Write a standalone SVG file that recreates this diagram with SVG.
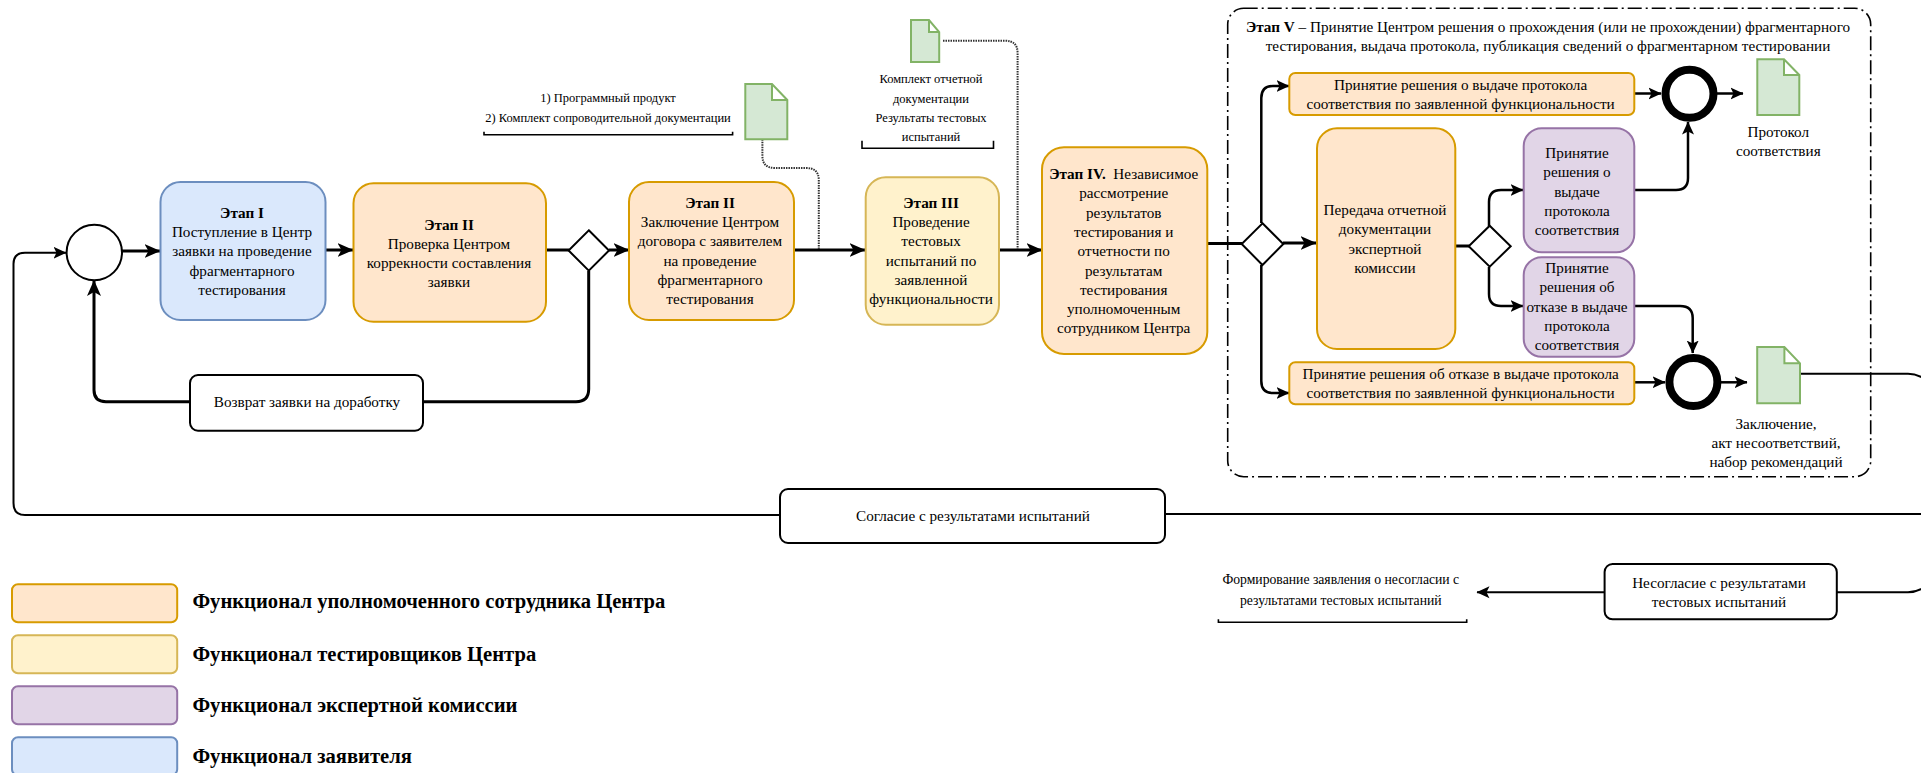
<svg xmlns="http://www.w3.org/2000/svg" width="1921" height="773" viewBox="0 0 1921 773">
<style>
text{font-family:"Liberation Serif","Times New Roman",serif;fill:#000}
.t{font-size:15.2px;text-anchor:middle}
.s{font-size:12.5px;text-anchor:middle}
.f{font-size:13.7px;text-anchor:middle}
.l{font-size:20.6px;font-weight:bold}
.b{font-weight:bold}
.or{fill:#ffe6cc;stroke:#d79b00;stroke-width:2}
.ye{fill:#fff2cc;stroke:#d6b656;stroke-width:2}
.pu{fill:#e1d5e7;stroke:#9673a6;stroke-width:2}
.bl{fill:#dae8fc;stroke:#6c8ebf;stroke-width:2}
.doc{fill:#d5e8d4;stroke:#82b366;stroke-width:2}
.wh{fill:#fff;stroke:#000;stroke-width:2}
.c{fill:none;stroke:#000;stroke-width:2.5}
.c3{fill:none;stroke:#000;stroke-width:3}
.c2{fill:none;stroke:#000;stroke-width:2}
.d{fill:none;stroke:#333;stroke-width:2;stroke-dasharray:1.5 1}
.br{fill:none;stroke:#000;stroke-width:1.6}
</style>
<defs>
<marker id="a" markerUnits="userSpaceOnUse" markerWidth="17" markerHeight="16" refX="15.5" refY="8" orient="auto"><path d="M0,1 L16,8 L0,15 L4,8 Z" fill="#000"/></marker>
<marker id="m" markerUnits="userSpaceOnUse" markerWidth="14" markerHeight="14" refX="12.5" refY="7" orient="auto"><path d="M0,1 L13,7 L0,13 L3,7 Z" fill="#000"/></marker>
</defs>
<rect id="stage5-frame" x="1227.7" y="8.3" width="643" height="468.4" rx="16" fill="none" stroke="#000" stroke-width="1.6" stroke-dasharray="14 4 2 4"/>
<g id="connectors">
<path class="c3" d="M122,251H160" marker-end="url(#a)"/>
<path class="c3" d="M326,250H353" marker-end="url(#a)"/>
<path class="c3" d="M546,250H569"/>
<path class="c3" d="M609,250H629" marker-end="url(#a)"/>
<path class="c3" d="M794,250H865" marker-end="url(#a)"/>
<path class="c3" d="M999,250H1042" marker-end="url(#a)"/>
<path class="c3" d="M1207,243.5H1242"/>
<path class="c3" d="M1283,243H1316" marker-end="url(#a)"/>
<path class="c3" d="M1455,246H1469"/>
<path class="c3" d="M588.7,271V389Q588.7,401.7 576,401.7H423"/>
<path class="c3" d="M190,401.7H106Q94,401.7 94,390V280.5" marker-end="url(#a)"/>
<path class="c2" d="M780,515H25Q13.5,515 13.5,503V264Q13.5,252.7 25,252.7H66" marker-end="url(#m)"/>
<path class="d" d="M762.4,139.3V156Q762.4,168 775,168H806Q818.8,168 818.8,180V249"/>
<path class="d" d="M943,40.7H1005Q1017.6,40.7 1017.6,53V249"/>
<path class="c" d="M1261.3,223V98Q1261.3,86 1273,86H1289" marker-end="url(#m)"/>
<path class="c" d="M1261.3,265V381Q1261.3,393 1273,393H1289" marker-end="url(#m)"/>
<path class="c" d="M1489,226V202Q1489,190 1501,190H1523" marker-end="url(#m)"/>
<path class="c" d="M1489,267V294Q1489,306 1501,306H1523" marker-end="url(#m)"/>
<path class="c" d="M1634,93.5H1661" marker-end="url(#m)"/>
<path class="c" d="M1717,93.5H1743" marker-end="url(#m)"/>
<path class="c" d="M1634,190H1676Q1688,190 1688,178V122" marker-end="url(#m)"/>
<path class="c" d="M1634,306H1680Q1692.7,306 1692.7,318V353" marker-end="url(#m)"/>
<path class="c" d="M1634,382.3H1665" marker-end="url(#m)"/>
<path class="c" d="M1721,382.3H1747" marker-end="url(#m)"/>
<path class="c2" d="M1800,373.7H1908Q1921,373.7 1933,386V500Q1933,514 1921,514H1165"/>
<path class="c2" d="M1837,592.3H1908Q1921,592.3 1933,580V526Q1933,514 1921,514"/>
<path class="c2" d="M1604.6,592.3H1477" marker-end="url(#m)"/>
</g>
<g id="start"><circle class="wh" cx="94.3" cy="252.5" r="27.7"/></g>
<g id="stage1"><rect class="bl" x="160.5" y="182" width="165" height="138" rx="20"/>
<text class="t" x="242"><tspan x="242" y="218" class="b">Этап I</tspan><tspan x="242" y="237.2">Поступление в Центр</tspan><tspan x="242" y="256.4">заявки на проведение</tspan><tspan x="242" y="275.6">фрагментарного</tspan><tspan x="242" y="294.8">тестирования</tspan></text></g>
<g id="stage2a"><rect class="or" x="353.5" y="183.3" width="192.5" height="138.4" rx="20"/>
<text class="t"><tspan x="449" y="229.5" class="b">Этап II</tspan><tspan x="449" y="248.7">Проверка Центром</tspan><tspan x="449" y="267.9">коррекности составления</tspan><tspan x="449" y="287.1">заявки</tspan></text></g>
<g id="gate1"><path class="wh" d="M588.8,230.3L609,250.5L588.8,270.7L568.6,250.5Z"/></g>
<g id="return"><rect class="wh" x="190" y="375" width="233" height="55.7" rx="8"/><text class="t" x="307" y="407">Возврат заявки на доработку</text></g>
<g id="stage2b"><rect class="or" x="629" y="182" width="165" height="138" rx="20"/>
<text class="t"><tspan x="710" y="207.7" class="b">Этап II</tspan><tspan x="710" y="227">Заключение Центром</tspan><tspan x="710" y="246.3">договора с заявителем</tspan><tspan x="710" y="265.6">на проведение</tspan><tspan x="710" y="284.9">фрагментарного</tspan><tspan x="710" y="304.2">тестирования</tspan></text></g>
<g id="stage3"><rect class="ye" x="865.7" y="177.3" width="133.3" height="147.4" rx="20"/>
<text class="t"><tspan x="931" y="207.7" class="b">Этап III</tspan><tspan x="931" y="227">Проведение</tspan><tspan x="931" y="246.3">тестовых</tspan><tspan x="931" y="265.6">испытаний по</tspan><tspan x="931" y="284.9">заявленной</tspan><tspan x="931" y="304.2">функциональности</tspan></text></g>
<g id="stage4"><rect class="or" x="1042" y="147.3" width="165.3" height="206.7" rx="22"/>
<text class="t"><tspan x="1123.7" y="179"><tspan class="b">Этап IV.</tspan>&#160; Независимое</tspan><tspan x="1123.7" y="198.3">рассмотрение</tspan><tspan x="1123.7" y="217.6">результатов</tspan><tspan x="1123.7" y="236.9">тестирования и</tspan><tspan x="1123.7" y="256.2">отчетности по</tspan><tspan x="1123.7" y="275.5">результатам</tspan><tspan x="1123.7" y="294.8">тестирования</tspan><tspan x="1123.7" y="314.1">уполномоченным</tspan><tspan x="1123.7" y="333.4">сотрудником Центра</tspan></text></g>
<g id="gate2"><path class="wh" d="M1262.5,223.3L1283.3,244L1262.5,265L1241.7,244Z"/></g>
<g id="stage5-title"><text class="t"><tspan x="1548" y="31.7"><tspan class="b">Этап V</tspan> – Принятие Центром решения о прохождения (или не прохождении) фрагментарного</tspan><tspan x="1548" y="51">тестирования, выдача протокола, публикация сведений о фрагментарном тестировании</tspan></text></g>
<g id="decision-yes"><rect class="or" x="1289.3" y="73" width="345" height="42" rx="6"/>
<text class="t"><tspan x="1460.6" y="90">Принятие решения о выдаче протокола</tspan><tspan x="1460.6" y="109.3">соответствия по заявленной функциональности</tspan></text></g>
<g id="transfer"><rect class="or" x="1317" y="128.3" width="138.3" height="220.7" rx="20"/>
<text class="t"><tspan x="1385" y="215">Передача отчетной</tspan><tspan x="1385" y="234.3">документации</tspan><tspan x="1385" y="253.6">экспертной</tspan><tspan x="1385" y="272.9">комиссии</tspan></text></g>
<g id="gate3"><path class="wh" d="M1489.7,225.7L1510.7,246.2L1489.7,266.7L1468.7,246.2Z"/></g>
<g id="expert-yes"><rect class="pu" x="1523.7" y="128.3" width="110.6" height="124" rx="18"/>
<text class="t"><tspan x="1577" y="158">Принятие</tspan><tspan x="1577" y="177.3">решения о</tspan><tspan x="1577" y="196.6">выдаче</tspan><tspan x="1577" y="215.9">протокола</tspan><tspan x="1577" y="235.2">соответствия</tspan></text></g>
<g id="expert-no"><rect class="pu" x="1523.7" y="257.3" width="110.6" height="99.4" rx="18"/>
<text class="t"><tspan x="1577" y="273">Принятие</tspan><tspan x="1577" y="292.3">решения об</tspan><tspan x="1577" y="311.6">отказе в выдаче</tspan><tspan x="1577" y="330.9">протокола</tspan><tspan x="1577" y="350.2">соответствия</tspan></text></g>
<g id="decision-no"><rect class="or" x="1289.3" y="362.3" width="345" height="42" rx="6"/>
<text class="t"><tspan x="1460.6" y="378.5">Принятие решения об отказе в выдаче протокола</tspan><tspan x="1460.6" y="398">соответствия по заявленной функциональности</tspan></text></g>
<g id="end1"><circle cx="1689.5" cy="93.8" r="24" fill="#fff" stroke="#000" stroke-width="8"/></g>
<g id="end2"><circle cx="1693.4" cy="382" r="24" fill="#fff" stroke="#000" stroke-width="8"/></g>
<g id="doc-input"><path class="doc" d="M745.3,84H772L787.3,100V139.3H745.3Z M772,84V100H787.3"/>
<text class="s"><tspan x="608" y="101.5">1) Программный продукт</tspan><tspan x="608" y="121.5">2) Комплект сопроводительной документации</tspan></text>
<path class="br" d="M484,131.7V134.7H732.6V131.7"/></g>
<g id="doc-report"><path class="doc" d="M911,20H929L939.2,32V62H911Z M929,20V32H939.2"/>
<text class="s"><tspan x="931" y="83.3">Комплект отчетной</tspan><tspan x="931" y="102.5">документации</tspan><tspan x="931" y="121.7">Результаты тестовых</tspan><tspan x="931" y="140.7">испытаний</tspan></text>
<path class="br" d="M862,140.7V148.3H993.5V140.7"/></g>
<g id="doc-protocol"><path class="doc" d="M1757.3,59.3H1784L1799.3,75V115H1757.3Z M1784,59.3V75H1799.3"/>
<text class="t"><tspan x="1778.3" y="136.7">Протокол</tspan><tspan x="1778.3" y="156.3">соответствия</tspan></text></g>
<g id="doc-conclusion"><path class="doc" d="M1757.2,347H1784.4L1800,363.3V403.3H1757.2Z M1784.4,347V363.3H1800"/>
<text class="t"><tspan x="1776" y="428.7">Заключение,</tspan><tspan x="1776" y="448">акт несоответствий,</tspan><tspan x="1776" y="467.3">набор рекомендаций</tspan></text></g>
<g id="agree"><rect class="wh" x="780" y="489" width="385" height="54" rx="8"/><text class="t" x="973" y="521">Согласие с результатами испытаний</text></g>
<g id="disagree"><rect class="wh" x="1604.6" y="564" width="232.2" height="55.3" rx="8"/>
<text class="t"><tspan x="1719" y="587.7">Несогласие с результатами</tspan><tspan x="1719" y="607.2">тестовых испытаний</tspan></text></g>
<g id="statement"><text class="f"><tspan x="1340.8" y="584.3">Формирование заявления о несогласии с</tspan><tspan x="1340.8" y="605">результатами тестовых испытаний</tspan></text>
<path class="br" d="M1218.4,619.3V622.3H1466.7V619.3"/></g>
<g id="legend">
<rect class="or" x="12" y="584.3" width="165.2" height="38" rx="6"/><text class="l" x="192.4" y="607.7">Функционал уполномоченного сотрудника Центра</text>
<rect class="ye" x="12" y="635.3" width="165.2" height="38" rx="6"/><text class="l" x="192.4" y="661">Функционал тестировщиков Центра</text>
<rect class="pu" x="12" y="686.3" width="165.2" height="38" rx="6"/><text class="l" x="192.4" y="711.7">Функционал экспертной комиссии</text>
<rect class="bl" x="12" y="737.3" width="165.2" height="38" rx="6"/><text class="l" x="192.4" y="763.3">Функционал заявителя</text>
</g>
</svg>
